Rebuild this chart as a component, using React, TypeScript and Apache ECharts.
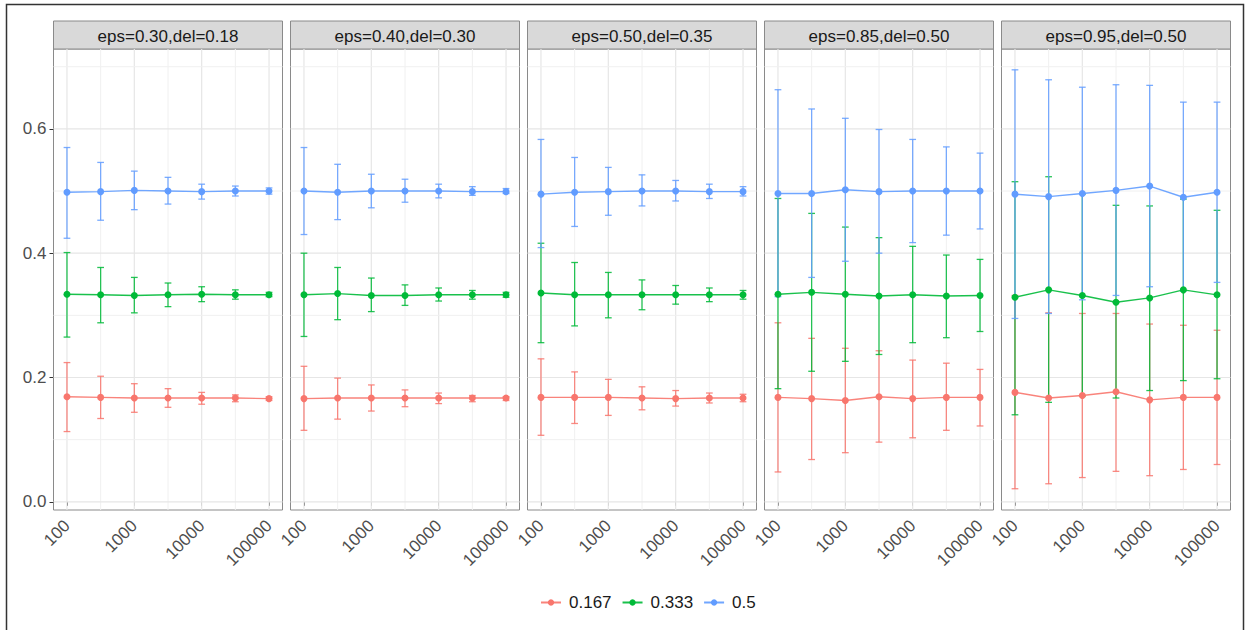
import React, { useEffect, useRef } from "react";
import * as echarts from "echarts";

// ---------- data ----------
const SAMPLE_SIZES = [100, 316, 1000, 3162, 10000, 31623, 100000];
const X_TICKS = [100, 1000, 10000, 100000];
const X_MINOR = [316.23, 3162.3, 31623];
const Y_TICKS = [0, 0.2, 0.4, 0.6];
const Y_MINOR = [0.1, 0.3, 0.5, 0.7];
const GROUPS = ["0.167", "0.333", "0.5"];
const FACETS = [
  "eps=0.30,del=0.18",
  "eps=0.40,del=0.30",
  "eps=0.50,del=0.35",
  "eps=0.85,del=0.50",
  "eps=0.95,del=0.50",
];

// rows: 0.167, 0.333, 0.5 ; columns: SAMPLE_SIZES
const P1_MEAN = [
  [0.169, 0.168, 0.167, 0.167, 0.167, 0.167, 0.166],
  [0.334, 0.333, 0.332, 0.333, 0.334, 0.333, 0.333],
  [0.498, 0.499, 0.501, 0.5, 0.499, 0.5, 0.5],
];
const P1_LO = [
  [0.113, 0.134, 0.144, 0.152, 0.157, 0.161, 0.163],
  [0.265, 0.288, 0.304, 0.314, 0.322, 0.326, 0.33],
  [0.424, 0.453, 0.47, 0.479, 0.487, 0.492, 0.495],
];
const P1_HI = [
  [0.224, 0.202, 0.19, 0.182, 0.176, 0.172, 0.169],
  [0.401, 0.377, 0.361, 0.352, 0.346, 0.341, 0.337],
  [0.57, 0.546, 0.532, 0.522, 0.511, 0.508, 0.505],
];

const P2_MEAN = [
  [0.166, 0.167, 0.167, 0.167, 0.167, 0.167, 0.167],
  [0.333, 0.335, 0.332, 0.332, 0.333, 0.333, 0.333],
  [0.5, 0.498, 0.5, 0.5, 0.5, 0.499, 0.499],
];
const P2_LO = [
  [0.115, 0.133, 0.146, 0.153, 0.158, 0.161, 0.163],
  [0.266, 0.293, 0.306, 0.316, 0.323, 0.326, 0.329],
  [0.43, 0.454, 0.473, 0.482, 0.489, 0.493, 0.496],
];
const P2_HI = [
  [0.218, 0.199, 0.188, 0.18, 0.175, 0.171, 0.169],
  [0.4, 0.377, 0.36, 0.349, 0.344, 0.34, 0.337],
  [0.57, 0.543, 0.527, 0.519, 0.511, 0.507, 0.504],
];

const P3_MEAN = [
  [0.168, 0.168, 0.168, 0.167, 0.166, 0.167, 0.167],
  [0.336, 0.333, 0.333, 0.333, 0.333, 0.333, 0.333],
  [0.495, 0.498, 0.499, 0.5, 0.5, 0.499, 0.499],
];
const P3_LO = [
  [0.107, 0.126, 0.139, 0.148, 0.154, 0.159, 0.161],
  [0.256, 0.283, 0.296, 0.309, 0.318, 0.322, 0.326],
  [0.409, 0.443, 0.461, 0.476, 0.484, 0.488, 0.492],
];
const P3_HI = [
  [0.23, 0.209, 0.197, 0.185, 0.179, 0.175, 0.173],
  [0.416, 0.385, 0.369, 0.357, 0.348, 0.344, 0.34],
  [0.583, 0.554, 0.538, 0.526, 0.517, 0.511, 0.507],
];

const P4_MEAN = [
  [0.168, 0.166, 0.163, 0.169, 0.166, 0.168, 0.168],
  [0.334, 0.337, 0.334, 0.331, 0.333, 0.331, 0.332],
  [0.496, 0.496, 0.502, 0.499, 0.5, 0.5, 0.5],
];
const P4_LO = [
  [0.048, 0.068, 0.079, 0.096, 0.103, 0.115, 0.122],
  [0.182, 0.21, 0.226, 0.237, 0.256, 0.264, 0.274],
  [0.33, 0.361, 0.387, 0.4, 0.417, 0.429, 0.439],
];
const P4_HI = [
  [0.288, 0.263, 0.247, 0.243, 0.228, 0.223, 0.213],
  [0.488, 0.464, 0.442, 0.425, 0.411, 0.397, 0.39],
  [0.663, 0.632, 0.617, 0.599, 0.583, 0.571, 0.561],
];

const P5_MEAN = [
  [0.176, 0.167, 0.171, 0.177, 0.164, 0.168, 0.168],
  [0.329, 0.341, 0.332, 0.321, 0.328, 0.341, 0.333],
  [0.495, 0.491, 0.496, 0.501, 0.508, 0.49, 0.498],
];
const P5_LO = [
  [0.021, 0.029, 0.039, 0.049, 0.042, 0.052, 0.06],
  [0.14, 0.16, 0.17, 0.167, 0.179, 0.195, 0.198],
  [0.295, 0.303, 0.325, 0.332, 0.346, 0.339, 0.353],
];
const P5_HI = [
  [0.332, 0.304, 0.303, 0.303, 0.286, 0.284, 0.276],
  [0.515, 0.523, 0.495, 0.477, 0.476, 0.487, 0.469],
  [0.695, 0.679, 0.667, 0.671, 0.67, 0.643, 0.643],
];

const PANELS = [
  { mean: P1_MEAN, lo: P1_LO, hi: P1_HI },
  { mean: P2_MEAN, lo: P2_LO, hi: P2_HI },
  { mean: P3_MEAN, lo: P3_LO, hi: P3_HI },
  { mean: P4_MEAN, lo: P4_LO, hi: P4_HI },
  { mean: P5_MEAN, lo: P5_LO, hi: P5_HI },
];

// ---------- style / layout ----------
const COLORS = ["#F8766D", "#00BA38", "#619CFF"];
const FONT = "'Liberation Sans', Arial, Helvetica, sans-serif";
const W = 1251;
const H = 630;
const PANEL_LEFT = 53.5;
const PANEL_W = 229;
const PANEL_STEP = 237;
const PLOT_TOP = 49;
const PLOT_H = 461;
const STRIP_TOP = 21;
const STRIP_H = 28;
const X_MIN = 1.8;
const X_MAX = 5.2;
const Y_MIN = -0.0132;
const Y_MAX = 0.7285;
const CAP = 0.05;

const lg = (v: number) => Math.log10(v);

function buildOption() {
  const grid: any[] = [];
  const xAxis: any[] = [];
  const yAxis: any[] = [];
  const series: any[] = [];
  const graphic: any[] = [];

  const gridData: number[][] = [];
  X_TICKS.forEach((v) => gridData.push([0, lg(v), 1]));
  X_MINOR.forEach((v) => gridData.push([0, lg(v), 0]));
  Y_TICKS.forEach((v) => gridData.push([1, v, 1]));
  Y_MINOR.forEach((v) => gridData.push([1, v, 0]));

  PANELS.forEach((panel, i) => {
    const left = PANEL_LEFT + i * PANEL_STEP;
    grid.push({
      left,
      top: PLOT_TOP,
      width: PANEL_W,
      height: PLOT_H,
      show: true,
      borderColor: "#8a8a8a",
      borderWidth: 1,
      backgroundColor: "#fff",
      containLabel: false,
    });
    xAxis.push({
      type: "value",
      gridIndex: i,
      min: X_MIN,
      max: X_MAX,
      axisLine: { show: false },
      splitLine: { show: false },
      axisTick: {
        show: true,
        length: 4,
        lineStyle: { color: "#333" },
        customValues: X_TICKS.map(lg),
      },
      axisLabel: {
        show: true,
        customValues: X_TICKS.map(lg),
        rotate: 45,
        margin: 13,
        fontSize: 17,
        color: "#4d4d4d",
        fontFamily: FONT,
        formatter: (v: number) => String(Math.round(Math.pow(10, v))),
      },
    });
    yAxis.push({
      type: "value",
      gridIndex: i,
      min: Y_MIN,
      max: Y_MAX,
      axisLine: { show: false },
      splitLine: { show: false },
      axisTick: {
        show: i === 0,
        length: 4,
        lineStyle: { color: "#333" },
        customValues: Y_TICKS,
      },
      axisLabel: {
        show: i === 0,
        customValues: Y_TICKS,
        margin: 7,
        fontSize: 17,
        color: "#4d4d4d",
        fontFamily: FONT,
        formatter: (v: number) => v.toFixed(1),
      },
    });

    // panel grid lines
    series.push({
      type: "custom",
      name: "grid-" + i,
      xAxisIndex: i,
      yAxisIndex: i,
      z: 1,
      silent: true,
      data: gridData,
      encode: { x: 1, y: 1 },
      renderItem: (params: any, api: any) => {
        const kind = api.value(0);
        const v = api.value(1);
        const major = api.value(2) === 1;
        let p1: number[];
        let p2: number[];
        if (kind === 0) {
          p1 = api.coord([v, Y_MIN]);
          p2 = api.coord([v, Y_MAX]);
        } else {
          p1 = api.coord([X_MIN, v]);
          p2 = api.coord([X_MAX, v]);
        }
        return {
          type: "line",
          shape: { x1: p1[0], y1: p1[1], x2: p2[0], y2: p2[1] },
          style: {
            stroke: major ? "#e6e6e6" : "#f0f0f0",
            lineWidth: major ? 1.2 : 1,
          },
        };
      },
    });

    // error bars
    GROUPS.forEach((g, gi) => {
      series.push({
        type: "custom",
        name: "err-" + g + "-" + i,
        xAxisIndex: i,
        yAxisIndex: i,
        z: 2,
        silent: true,
        data: SAMPLE_SIZES.map((n, k) => [lg(n), panel.lo[gi][k], panel.hi[gi][k]]),
        encode: { x: 0, y: [1, 2] },
        renderItem: (params: any, api: any) => {
          const x = api.value(0);
          const lo = api.value(1);
          const hi = api.value(2);
          const a = api.coord([x, lo]);
          const b = api.coord([x, hi]);
          const la = api.coord([x - CAP, lo]);
          const ra = api.coord([x + CAP, lo]);
          const lb = api.coord([x - CAP, hi]);
          const rb = api.coord([x + CAP, hi]);
          const style = { stroke: COLORS[gi], lineWidth: 1.3, opacity: 0.85 };
          return {
            type: "group",
            children: [
              { type: "line", shape: { x1: a[0], y1: a[1], x2: b[0], y2: b[1] }, style },
              { type: "line", shape: { x1: la[0], y1: la[1], x2: ra[0], y2: ra[1] }, style },
              { type: "line", shape: { x1: lb[0], y1: lb[1], x2: rb[0], y2: rb[1] }, style },
            ],
          };
        },
      });
    });

    // mean lines + points
    GROUPS.forEach((g, gi) => {
      series.push({
        type: "line",
        name: g,
        xAxisIndex: i,
        yAxisIndex: i,
        z: 3,
        data: SAMPLE_SIZES.map((n, k) => [lg(n), panel.mean[gi][k]]),
        symbol: "circle",
        symbolSize: 7,
        showSymbol: true,
        lineStyle: { color: COLORS[gi], width: 1.4, opacity: 0.9 },
        itemStyle: { color: COLORS[gi] },
        emphasis: { disabled: true },
      });
    });

    // strip
    graphic.push({
      type: "group",
      children: [
        {
          type: "rect",
          shape: { x: left, y: STRIP_TOP, width: PANEL_W, height: STRIP_H },
          style: { fill: "#d9d9d9", stroke: "#8a8a8a", lineWidth: 1 },
        },
        {
          type: "text",
          x: left + PANEL_W / 2,
          y: STRIP_TOP + STRIP_H / 2 + 1,
          style: {
            text: FACETS[i],
            fill: "#1a1a1a",
            font: "17px " + FONT,
            textAlign: "center",
            textVerticalAlign: "middle",
          },
        },
      ],
    });
  });

  // outer frame
  graphic.push({
    type: "rect",
    shape: { x: 6.5, y: 4.5, width: 1237, height: 660 },
    style: { fill: "none", stroke: "#333", lineWidth: 1.5 },
    silent: true,
  });

  return {
    animation: false,
    backgroundColor: "#fff",
    textStyle: { fontFamily: FONT },
    grid,
    xAxis,
    yAxis,
    series,
    graphic,
    legend: {
      data: GROUPS,
      left: 535,
      top: 589,
      orient: "horizontal",
      itemWidth: 20,
      itemHeight: 8,
      itemGap: 10,
      textStyle: { fontSize: 17, color: "#1a1a1a", fontFamily: FONT, padding: [0, 0, 0, 3] },
      selectedMode: false,
    },
  };
}

export default function App() {
  const ref = useRef<HTMLDivElement>(null);
  useEffect(() => {
    if (!ref.current) return;
    const chart = echarts.init(ref.current, undefined, { renderer: "svg" });
    chart.setOption(buildOption() as any);
    return () => chart.dispose();
  }, []);
  return (
    <div
      ref={ref}
      style={{ position: "absolute", left: 0, top: 0, width: W, height: H, background: "#fff" }}
    />
  );
}
